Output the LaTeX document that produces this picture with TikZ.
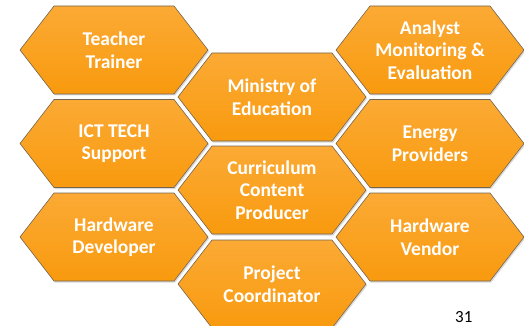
\documentclass[tikz,border=0pt]{standalone}
\usepackage{fontspec}
\setmainfont{Carlito}
\usetikzlibrary{shadows}
\definecolor{hexTop}{HTML}{FBAA35}
\definecolor{hexBot}{HTML}{F99A0E}
\definecolor{hexEdge}{HTML}{756550}
\tikzset{
  hexshape/.style={draw=hexEdge, line width=0.6pt, top color=hexTop, bottom color=hexBot,
    drop shadow={shadow xshift=1.2pt, shadow yshift=-1.5pt, fill=black!30, opacity=0.5}},
  hexlabel/.style={text=white, font=\bfseries\fontsize{19.5}{22.5}\selectfont, align=center},
  pagenum/.style={text=black, font=\fontsize{17}{20}\selectfont, inner sep=0pt},
}
\newcommand{\hexcell}[4]{%
  \path[hexshape] (#2-94,#3) -- (#2-60,#3-44) -- (#2+60,#3-44) -- (#2+94,#3)
     -- (#2+60,#3+44) -- (#2-60,#3+44) -- cycle;
  \node[hexlabel] (#1) at (#2,#3) {#4};
}
\begin{document}
\begin{tikzpicture}[x=1pt,y=-1pt]
\useasboundingbox (0,0) rectangle (524,326);
\clip (0,0) rectangle (524,326);
\hexcell{teacher}{114}{50}{Teacher\\Trainer}
\hexcell{ict}{114}{143.5}{ICT TECH\\Support}
\hexcell{hwdev}{114}{237}{Hardware\\Developer}
\hexcell{ministry}{272}{97}{Ministry of\\Education}
\hexcell{curriculum}{272}{190}{Curriculum\\Content\\Producer}
\hexcell{project}{272}{284}{Project\\Coordinator}
\hexcell{analyst}{430}{50}{Analyst\\Monitoring \&\\Evaluation}
\hexcell{energy}{430}{143.5}{Energy\\Providers}
\hexcell{vendor}{430}{237}{Hardware\\Vendor}
\node[pagenum, anchor=base west] (page) at (455,322) {31};
\end{tikzpicture}
\end{document}
